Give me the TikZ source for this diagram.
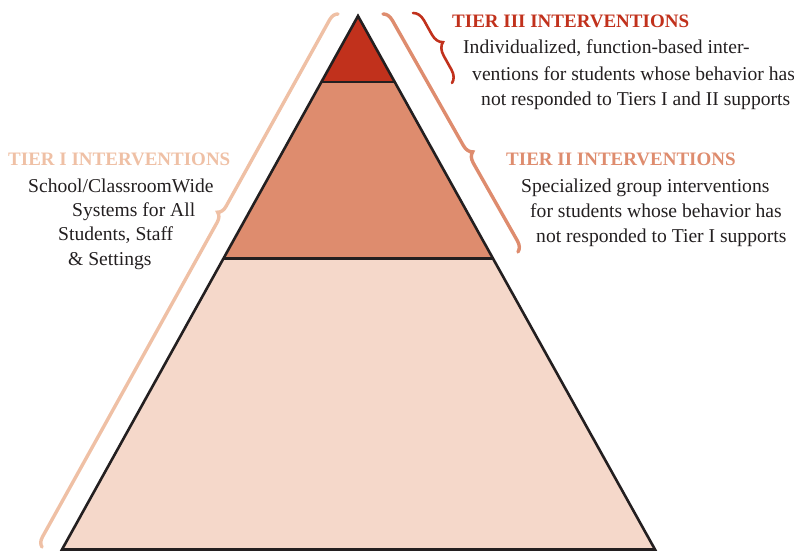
\documentclass[tikz,border=0pt]{standalone}
\usepackage{fontspec}
\setmainfont{Liberation Serif}
\usetikzlibrary{calc,positioning,decorations.pathreplacing}

\definecolor{tierone}{HTML}{F5D8CA}
\definecolor{tiertwo}{HTML}{DE8C6E}
\definecolor{tierthree}{HTML}{C1311C}
\definecolor{onelabel}{HTML}{EFC0A5}
\definecolor{inkgray}{HTML}{231F20}

\begin{document}
\begin{tikzpicture}[x=1pt,y=-1pt,
    txt/.style={font=\fontsize{19.6}{23}\selectfont,text=inkgray,anchor=base west,inner sep=0pt},
    head/.style={txt,font=\fontsize{19}{23}\selectfont\bfseries},
    bracket/.style={decorate,line cap=round,line width=3.4pt}]
    \useasboundingbox (0,0) rectangle (794,550);

    % pyramid corners
    \coordinate (apex) at (358,16);
    \coordinate (bl) at (62,549.5);
    \coordinate (br) at (655,549.5);
    \coordinate (tl) at ($(apex)!0.124!(bl)$);
    \coordinate (tr) at ($(apex)!0.124!(br)$);
    \coordinate (ml) at ($(apex)!0.454!(bl)$);
    \coordinate (mr) at ($(apex)!0.454!(br)$);

    \fill[tierone] (ml) -- (mr) -- (br) -- (bl) -- cycle;
    \fill[tiertwo] (tl) -- (tr) -- (mr) -- (ml) -- cycle;
    \fill[tierthree] (apex) -- (tr) -- (tl) -- cycle;
    \draw[inkgray,line width=2.6pt,line join=miter] (apex) -- (br) -- (bl) -- cycle;
    \draw[inkgray,line width=2.6pt] (tl) -- (tr) (ml) -- (mr);

    % braces
    \coordinate (oneb) at (42,547);
    \coordinate (onet) at (338,14);
    \coordinate (twot) at (383,14);
    \coordinate (twob) at (518,252);
    \coordinate (threet) at (413,13);
    \coordinate (threeb) at (452,83);
    \draw[bracket,onelabel,decoration={brace,amplitude=9pt,aspect=0.62}] (oneb) -- (onet);
    \draw[bracket,tiertwo,decoration={brace,amplitude=10pt,aspect=0.6}] (twot) -- (twob);
    \draw[bracket,tierthree,line width=2.6pt,decoration={brace,amplitude=12pt,aspect=0.5}] (threet) -- (threeb);

    % tier III
    \node[head,text=tierthree] (h3) at (452,27) {TIER III INTERVENTIONS};
    \node[txt] (t3a) at (463,53) {Individualized, function-based inter-};
    \node[txt] (t3b) at (472,80) {ventions for students whose behavior has};
    \node[txt] (t3c) at (481,105) {not responded to Tiers I and II supports};

    % tier II
    \node[head,text=tiertwo] (h2) at (506,165) {TIER II INTERVENTIONS};
    \node[txt] (t2a) at (521,192) {Specialized group interventions};
    \node[txt] (t2b) at (530,217) {for students whose behavior has};
    \node[txt] (t2c) at (536,242) {not responded to Tier I supports};

    % tier I
    \node[head,text=onelabel] (h1) at (8,165) {TIER I INTERVENTIONS};
    \node[txt] (t1a) at (28,192) {School/ClassroomWide};
    \node[txt] (t1b) at (72,216) {Systems for All};
    \node[txt] (t1c) at (58,240) {Students, Staff};
    \node[txt] (t1d) at (68,265) {\& Settings};
\end{tikzpicture}
\end{document}
